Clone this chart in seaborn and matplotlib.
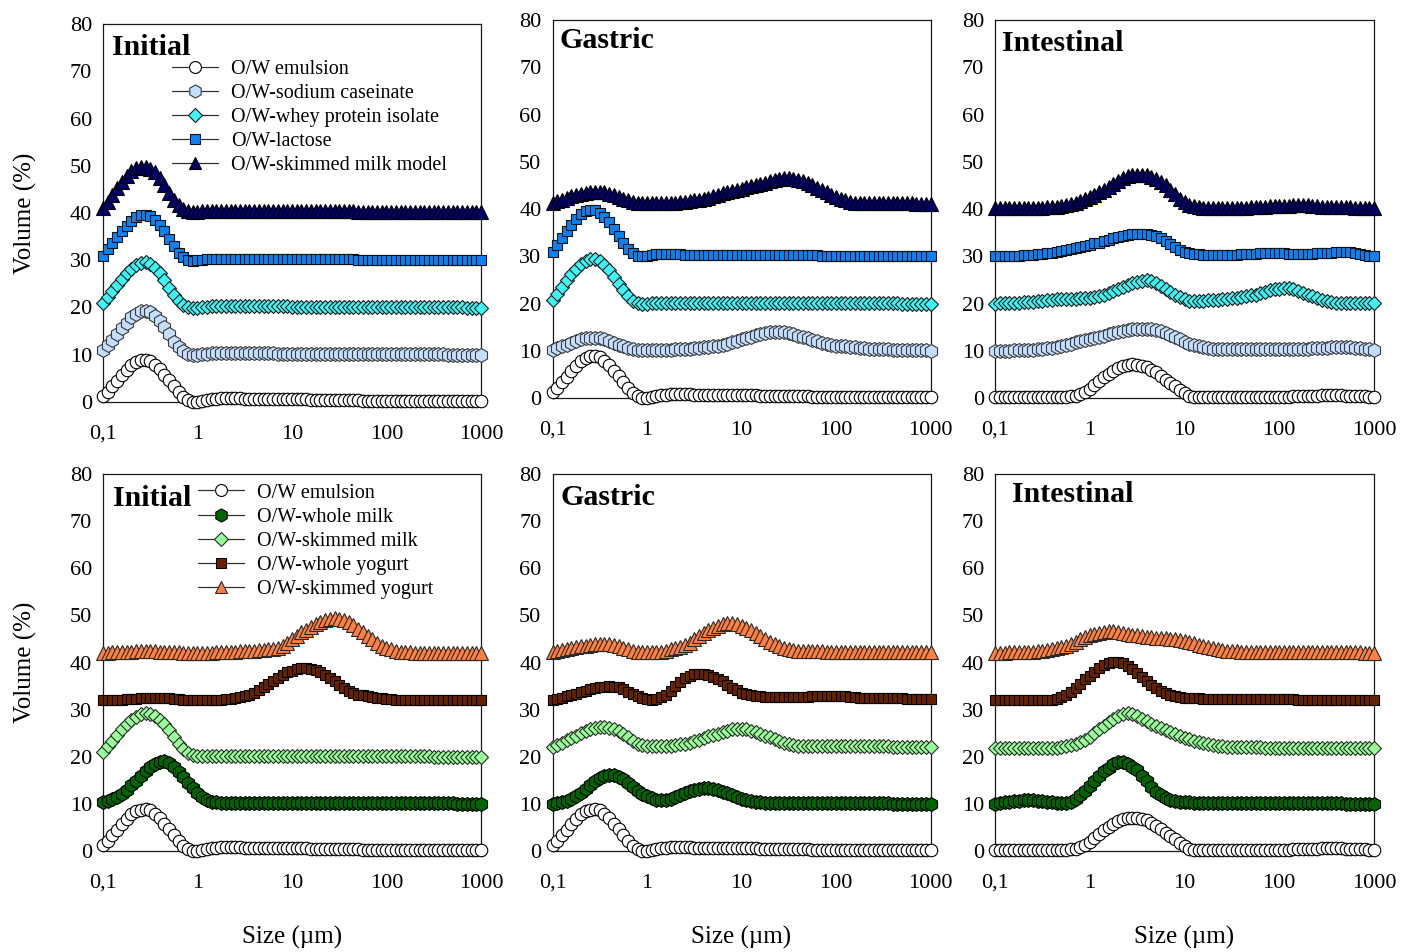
import matplotlib
matplotlib.use("Agg")
import matplotlib.pyplot as plt
from matplotlib.ticker import FixedLocator, NullLocator
import seaborn as sns

# Particle size classes (µm), 20 classes per decade from 0.1 to 1000
sizes_um = [
    0.1, 0.112, 0.126, 0.141, 0.158, 0.178, 0.2, 0.224, 0.251, 0.282,
    0.316, 0.355, 0.398, 0.447, 0.501, 0.562, 0.631, 0.708, 0.794, 0.891,
    1.0, 1.12, 1.26, 1.41, 1.58, 1.78, 2.0, 2.24, 2.51, 2.82,
    3.16, 3.55, 3.98, 4.47, 5.01, 5.62, 6.31, 7.08, 7.94, 8.91,
    10.0, 11.2, 12.6, 14.1, 15.8, 17.8, 20.0, 22.4, 25.1, 28.2,
    31.6, 35.5, 39.8, 44.7, 50.1, 56.2, 63.1, 70.8, 79.4, 89.1,
    100.0, 112, 126, 141, 158, 178, 200, 224, 251, 282,
    316, 355, 398, 447, 501, 562, 631, 708, 794, 891,
    1000.0,
]

phases = ["Initial", "Gastric", "Intestinal"]
tick_values = [0.1, 1, 10, 100, 1000]
tick_labels = ["0,1", "1", "10", "100", "1000"]
y_ticks = [0, 10, 20, 30, 40, 50, 60, 70, 80]

top_labels = ["O/W emulsion", "O/W-sodium caseinate", "O/W-whey protein isolate",
              "O/W-lactose", "O/W-skimmed milk model"]
bottom_labels = ["O/W emulsion", "O/W-whole milk", "O/W-skimmed milk",
                 "O/W-whole yogurt", "O/W-skimmed yogurt"]

# ---- Volume (%) curves, stacked with offsets as plotted ----
emulsion_initial = [
    1.2, 2.2, 3.3, 4.5, 5.7, 6.8, 7.8, 8.4, 8.8, 8.9,
    8.6, 7.9, 6.9, 5.8, 4.6, 3.3, 2.1, 1.1, 0.4, 0.1,
    0.1, 0.3, 0.5, 0.6, 0.7, 0.8, 0.8, 0.8, 0.8, 0.8,
    0.7, 0.7, 0.7, 0.7, 0.7, 0.7, 0.7, 0.7, 0.6, 0.6,
    0.6, 0.6, 0.6, 0.6, 0.5, 0.5, 0.5, 0.5, 0.5, 0.5,
    0.4, 0.4, 0.4, 0.4, 0.4, 0.3, 0.3, 0.3, 0.3, 0.3,
    0.3, 0.3, 0.2, 0.2, 0.2, 0.2, 0.2, 0.2, 0.2, 0.2,
    0.2, 0.2, 0.2, 0.2, 0.2, 0.2, 0.2, 0.2, 0.2, 0.2,
    0.2,
]
emulsion_intestinal = [
    0.3, 0.3, 0.3, 0.3, 0.3, 0.3, 0.3, 0.3, 0.3, 0.3,
    0.3, 0.3, 0.3, 0.3, 0.3, 0.3, 0.4, 0.5, 0.8, 1.3,
    2.0, 2.8, 3.6, 4.4, 5.1, 5.8, 6.3, 6.7, 7.0, 7.1,
    7.0, 6.8, 6.5, 6.0, 5.4, 4.7, 3.9, 3.2, 2.5, 1.7,
    1.0, 0.5, 0.3, 0.2, 0.2, 0.2, 0.2, 0.2, 0.2, 0.2,
    0.2, 0.2, 0.2, 0.2, 0.2, 0.2, 0.2, 0.2, 0.3, 0.3,
    0.3, 0.3, 0.3, 0.4, 0.4, 0.4, 0.5, 0.5, 0.5, 0.6,
    0.6, 0.6, 0.6, 0.6, 0.5, 0.5, 0.5, 0.4, 0.4, 0.3,
    0.3,
]

caseinate_initial = [
    11.0, 12.0, 13.2, 14.4, 15.6, 16.8, 17.9, 18.7, 19.2, 19.3,
    19.0, 18.3, 17.2, 15.8, 14.3, 12.8, 11.6, 10.7, 10.2, 10.0,
    10.0, 10.1, 10.2, 10.3, 10.3, 10.3, 10.3, 10.3, 10.3, 10.3,
    10.3, 10.3, 10.3, 10.3, 10.3, 10.3, 10.3, 10.2, 10.2, 10.2,
    10.2, 10.2, 10.2, 10.2, 10.2, 10.2, 10.2, 10.2, 10.2, 10.2,
    10.2, 10.2, 10.1, 10.1, 10.1, 10.1, 10.1, 10.1, 10.1, 10.1,
    10.1, 10.1, 10.1, 10.1, 10.1, 10.1, 10.1, 10.1, 10.1, 10.1,
    10.1, 10.1, 10.1, 10.0, 10.0, 10.0, 10.0, 10.0, 10.0, 10.0,
    10.0,
]
caseinate_gastric = [
    10.2, 10.5, 10.9, 11.3, 11.7, 12.1, 12.4, 12.6, 12.7, 12.7,
    12.6, 12.4, 12.1, 11.7, 11.3, 10.9, 10.6, 10.3, 10.2, 10.1,
    10.1, 10.1, 10.1, 10.1, 10.2, 10.2, 10.3, 10.3, 10.4, 10.4,
    10.5, 10.6, 10.7, 10.8, 10.9, 11.1, 11.3, 11.5, 11.8, 12.1,
    12.4, 12.7, 13.0, 13.3, 13.6, 13.8, 13.9, 14.0, 14.0, 13.9,
    13.7, 13.5, 13.2, 12.9, 12.6, 12.3, 12.0, 11.7, 11.5, 11.3,
    11.1, 11.0, 10.9, 10.8, 10.7, 10.6, 10.5, 10.4, 10.4, 10.3,
    10.3, 10.3, 10.2, 10.2, 10.2, 10.2, 10.1, 10.1, 10.1, 10.1,
    10.0,
]
caseinate_intestinal = [
    10.0, 10.0, 10.0, 10.0, 10.1, 10.1, 10.1, 10.2, 10.2, 10.3,
    10.4, 10.5, 10.6, 10.8, 11.0, 11.2, 11.5, 11.8, 12.0, 12.3,
    12.5, 12.7, 13.0, 13.2, 13.5, 13.7, 13.9, 14.1, 14.3, 14.5,
    14.6, 14.7, 14.7, 14.6, 14.4, 14.2, 13.8, 13.4, 12.9, 12.4,
    11.9, 11.5, 11.2, 10.9, 10.7, 10.5, 10.4, 10.3, 10.3, 10.3,
    10.3, 10.3, 10.3, 10.3, 10.3, 10.3, 10.3, 10.3, 10.3, 10.3,
    10.3, 10.3, 10.3, 10.3, 10.3, 10.4, 10.4, 10.5, 10.5, 10.6,
    10.6, 10.7, 10.7, 10.7, 10.7, 10.7, 10.6, 10.5, 10.4, 10.3,
    10.2,
]

whey_initial = [
    21.0, 22.2, 23.5, 24.8, 26.0, 27.2, 28.2, 29.0, 29.5, 29.6,
    29.2, 28.4, 27.2, 25.8, 24.2, 22.7, 21.4, 20.5, 20.1, 20.0,
    20.0, 20.1, 20.2, 20.3, 20.3, 20.3, 20.3, 20.3, 20.3, 20.3,
    20.3, 20.3, 20.3, 20.3, 20.3, 20.3, 20.3, 20.3, 20.3, 20.3,
    20.2, 20.2, 20.2, 20.2, 20.2, 20.2, 20.2, 20.2, 20.2, 20.2,
    20.2, 20.2, 20.2, 20.2, 20.2, 20.2, 20.2, 20.2, 20.2, 20.2,
    20.1, 20.1, 20.1, 20.1, 20.1, 20.1, 20.1, 20.1, 20.1, 20.1,
    20.1, 20.1, 20.1, 20.1, 20.1, 20.1, 20.1, 20.0, 20.0, 20.0,
    20.0,
]
whey_gastric = [
    20.8, 22.1, 23.5, 24.9, 26.2, 27.4, 28.4, 29.1, 29.4, 29.4,
    29.0, 28.2, 27.1, 25.7, 24.2, 22.8, 21.5, 20.6, 20.1, 20.0,
    20.0, 20.1, 20.2, 20.2, 20.2, 20.2, 20.2, 20.2, 20.2, 20.2,
    20.2, 20.2, 20.2, 20.2, 20.2, 20.2, 20.2, 20.2, 20.2, 20.2,
    20.2, 20.2, 20.2, 20.2, 20.2, 20.2, 20.2, 20.2, 20.2, 20.2,
    20.2, 20.2, 20.2, 20.2, 20.2, 20.2, 20.1, 20.1, 20.1, 20.1,
    20.1, 20.1, 20.1, 20.1, 20.1, 20.1, 20.1, 20.1, 20.1, 20.1,
    20.1, 20.1, 20.1, 20.1, 20.0, 20.0, 20.0, 20.0, 20.0, 20.0,
    20.0,
]
whey_intestinal = [
    20.0, 20.1, 20.2, 20.2, 20.2, 20.2, 20.3, 20.3, 20.4, 20.5,
    20.6, 20.7, 20.8, 20.9, 21.0, 21.0, 21.0, 21.0, 21.1, 21.1,
    21.2, 21.3, 21.5, 21.8, 22.2, 22.6, 23.0, 23.5, 23.9, 24.3,
    24.6, 24.8, 24.9, 24.8, 24.4, 23.8, 23.1, 22.4, 21.8, 21.3,
    20.9, 20.6, 20.5, 20.5, 20.6, 20.7, 20.8, 20.8, 20.9, 21.0,
    21.1, 21.2, 21.3, 21.5, 21.7, 21.9, 22.2, 22.5, 22.8, 23.0,
    23.1, 23.2, 23.2, 23.0, 22.7, 22.3, 21.9, 21.5, 21.1, 20.8,
    20.5, 20.3, 20.2, 20.2, 20.2, 20.2, 20.2, 20.2, 20.2, 20.2,
    20.1,
]

lactose_initial = [
    31.0, 32.3, 33.6, 34.9, 36.1, 37.3, 38.3, 39.1, 39.5, 39.6,
    39.3, 38.6, 37.5, 36.1, 34.6, 33.0, 31.6, 30.6, 30.1, 29.9,
    30.0, 30.1, 30.2, 30.3, 30.3, 30.3, 30.3, 30.3, 30.3, 30.3,
    30.3, 30.3, 30.3, 30.3, 30.3, 30.3, 30.2, 30.2, 30.2, 30.2,
    30.2, 30.2, 30.2, 30.2, 30.2, 30.2, 30.2, 30.2, 30.2, 30.2,
    30.2, 30.2, 30.2, 30.2, 30.1, 30.1, 30.1, 30.1, 30.1, 30.1,
    30.1, 30.1, 30.1, 30.1, 30.1, 30.1, 30.1, 30.1, 30.1, 30.1,
    30.1, 30.1, 30.0, 30.0, 30.0, 30.0, 30.0, 30.0, 30.0, 30.0,
    30.0,
]
lactose_gastric = [
    30.9, 32.3, 33.8, 35.3, 36.7, 37.9, 38.9, 39.5, 39.8, 39.7,
    39.2, 38.4, 37.2, 35.8, 34.3, 32.9, 31.6, 30.6, 30.1, 30.0,
    30.1, 30.3, 30.4, 30.5, 30.5, 30.5, 30.4, 30.4, 30.3, 30.3,
    30.3, 30.3, 30.3, 30.3, 30.3, 30.3, 30.3, 30.3, 30.2, 30.2,
    30.2, 30.2, 30.2, 30.2, 30.2, 30.2, 30.2, 30.2, 30.2, 30.2,
    30.2, 30.2, 30.2, 30.2, 30.2, 30.2, 30.2, 30.1, 30.1, 30.1,
    30.1, 30.1, 30.1, 30.1, 30.1, 30.1, 30.1, 30.1, 30.1, 30.1,
    30.1, 30.1, 30.1, 30.1, 30.1, 30.1, 30.0, 30.0, 30.0, 30.0,
    30.0,
]
lactose_intestinal = [
    30.0, 30.0, 30.0, 30.0, 30.1, 30.1, 30.2, 30.2, 30.3, 30.4,
    30.5, 30.6, 30.7, 30.9, 31.1, 31.3, 31.5, 31.7, 31.9, 32.2,
    32.4, 32.7, 32.9, 33.2, 33.5, 33.8, 34.0, 34.3, 34.5, 34.7,
    34.8, 34.8, 34.7, 34.5, 34.2, 33.8, 33.2, 32.6, 32.0, 31.4,
    31.0, 30.7, 30.5, 30.4, 30.3, 30.3, 30.3, 30.3, 30.3, 30.3,
    30.3, 30.3, 30.4, 30.4, 30.5, 30.5, 30.6, 30.6, 30.6, 30.6,
    30.6, 30.6, 30.5, 30.5, 30.5, 30.5, 30.5, 30.5, 30.6, 30.6,
    30.7, 30.7, 30.8, 30.8, 30.8, 30.8, 30.7, 30.5, 30.3, 30.1,
    30.0,
]

model_initial = [
    41.1, 42.4, 43.8, 45.2, 46.6, 47.8, 48.8, 49.5, 49.8, 49.8,
    49.4, 48.6, 47.4, 45.9, 44.3, 42.8, 41.6, 40.8, 40.4, 40.3,
    40.3, 40.4, 40.5, 40.5, 40.5, 40.5, 40.5, 40.5, 40.5, 40.5,
    40.5, 40.5, 40.5, 40.5, 40.5, 40.5, 40.5, 40.4, 40.4, 40.4,
    40.4, 40.4, 40.4, 40.4, 40.4, 40.4, 40.4, 40.4, 40.4, 40.4,
    40.4, 40.4, 40.4, 40.4, 40.3, 40.3, 40.3, 40.3, 40.3, 40.3,
    40.3, 40.3, 40.3, 40.3, 40.3, 40.3, 40.3, 40.3, 40.3, 40.3,
    40.3, 40.3, 40.3, 40.2, 40.2, 40.2, 40.2, 40.2, 40.2, 40.2,
    40.2,
]
model_gastric = [
    41.3, 41.6, 42.0, 42.4, 42.7, 43.0, 43.2, 43.4, 43.5, 43.6,
    43.6, 43.5, 43.2, 42.9, 42.5, 42.1, 41.8, 41.5, 41.3, 41.2,
    41.2, 41.2, 41.2, 41.2, 41.2, 41.3, 41.3, 41.4, 41.5, 41.6,
    41.8, 42.0, 42.2, 42.4, 42.7, 43.0, 43.3, 43.6, 43.9, 44.1,
    44.3, 44.6, 44.8, 45.0, 45.3, 45.6, 45.9, 46.2, 46.4, 46.5,
    46.5, 46.4, 46.2, 45.9, 45.5, 45.0, 44.5, 44.0, 43.5, 43.0,
    42.5, 42.1, 41.8, 41.5, 41.3, 41.2, 41.2, 41.2, 41.2, 41.2,
    41.2, 41.2, 41.2, 41.2, 41.2, 41.2, 41.2, 41.1, 41.1, 41.1,
    41.1,
]
model_intestinal = [
    40.2, 40.2, 40.2, 40.2, 40.2, 40.2, 40.2, 40.2, 40.3, 40.3,
    40.3, 40.4, 40.4, 40.5, 40.6, 40.8, 41.0, 41.3, 41.7, 42.1,
    42.5, 43.0, 43.5, 44.0, 44.6, 45.2, 45.9, 46.5, 46.9, 47.2,
    47.3, 47.3, 47.1, 46.7, 46.3, 45.8, 45.0, 44.1, 43.1, 42.2,
    41.4, 40.9, 40.6, 40.4, 40.3, 40.3, 40.3, 40.3, 40.3, 40.3,
    40.3, 40.3, 40.3, 40.3, 40.4, 40.4, 40.5, 40.5, 40.6, 40.6,
    40.7, 40.7, 40.7, 40.8, 40.8, 40.8, 40.8, 40.7, 40.6, 40.5,
    40.5, 40.4, 40.4, 40.4, 40.4, 40.4, 40.3, 40.3, 40.3, 40.2,
    40.2,
]

whole_milk_initial = [
    10.3, 10.6, 11.0, 11.5, 12.2, 13.0, 13.9, 14.9, 16.0, 17.0,
    17.9, 18.5, 18.9, 19.0, 18.6, 17.8, 16.8, 15.6, 14.4, 13.3,
    12.3, 11.5, 10.9, 10.5, 10.3, 10.2, 10.2, 10.2, 10.2, 10.2,
    10.2, 10.2, 10.2, 10.2, 10.2, 10.2, 10.2, 10.2, 10.2, 10.2,
    10.2, 10.2, 10.2, 10.2, 10.2, 10.2, 10.2, 10.2, 10.2, 10.2,
    10.1, 10.1, 10.1, 10.1, 10.1, 10.1, 10.1, 10.1, 10.1, 10.1,
    10.1, 10.1, 10.1, 10.1, 10.1, 10.1, 10.1, 10.1, 10.1, 10.1,
    10.1, 10.1, 10.1, 10.1, 10.1, 10.0, 10.0, 10.0, 10.0, 10.0,
    10.0,
]
whole_milk_gastric = [
    10.0, 10.1, 10.3, 10.6, 11.1, 11.7, 12.4, 13.2, 14.0, 14.8,
    15.4, 15.9, 16.1, 16.1, 15.8, 15.2, 14.4, 13.6, 12.8, 12.1,
    11.6, 11.2, 10.9, 10.8, 10.9, 11.1, 11.5, 11.9, 12.3, 12.7,
    13.0, 13.2, 13.3, 13.3, 13.2, 12.9, 12.6, 12.3, 11.9, 11.5,
    11.1, 10.8, 10.6, 10.4, 10.3, 10.2, 10.2, 10.1, 10.1, 10.1,
    10.1, 10.1, 10.1, 10.1, 10.1, 10.1, 10.1, 10.1, 10.1, 10.1,
    10.1, 10.1, 10.1, 10.1, 10.1, 10.1, 10.1, 10.1, 10.1, 10.1,
    10.1, 10.1, 10.0, 10.0, 10.0, 10.0, 10.0, 10.0, 10.0, 10.0,
    10.0,
]
whole_milk_intestinal = [
    10.0, 10.2, 10.4, 10.5, 10.6, 10.7, 10.8, 10.8, 10.8, 10.7,
    10.6, 10.5, 10.4, 10.2, 10.1, 10.1, 10.5, 11.1, 11.9, 12.8,
    13.8, 14.9, 15.9, 16.9, 17.7, 18.4, 18.8, 18.8, 18.5, 17.9,
    17.1, 16.0, 14.8, 13.6, 12.6, 11.8, 11.2, 10.8, 10.6, 10.4,
    10.3, 10.3, 10.2, 10.2, 10.2, 10.2, 10.2, 10.2, 10.2, 10.2,
    10.2, 10.2, 10.2, 10.2, 10.2, 10.2, 10.1, 10.1, 10.1, 10.1,
    10.1, 10.1, 10.1, 10.1, 10.1, 10.1, 10.1, 10.1, 10.1, 10.1,
    10.1, 10.1, 10.1, 10.1, 10.0, 10.0, 10.0, 10.0, 10.0, 10.0,
    10.0,
]

skimmed_milk_initial = [
    21.1, 22.2, 23.4, 24.6, 25.8, 26.9, 27.8, 28.5, 29.0, 29.2,
    29.1, 28.6, 27.9, 26.9, 25.6, 24.2, 22.8, 21.6, 20.8, 20.4,
    20.2, 20.2, 20.2, 20.2, 20.2, 20.2, 20.2, 20.2, 20.2, 20.2,
    20.2, 20.2, 20.2, 20.2, 20.2, 20.2, 20.2, 20.2, 20.2, 20.2,
    20.2, 20.2, 20.2, 20.2, 20.2, 20.2, 20.2, 20.2, 20.1, 20.1,
    20.1, 20.1, 20.1, 20.1, 20.1, 20.1, 20.1, 20.1, 20.1, 20.1,
    20.1, 20.1, 20.1, 20.1, 20.1, 20.1, 20.1, 20.1, 20.1, 20.1,
    20.0, 20.0, 20.0, 20.0, 20.0, 20.0, 20.0, 20.0, 20.0, 20.0,
    20.0,
]
skimmed_milk_gastric = [
    22.1, 22.5, 23.0, 23.5, 24.0, 24.5, 25.0, 25.5, 25.9, 26.2,
    26.4, 26.4, 26.2, 25.9, 25.4, 24.8, 24.1, 23.4, 22.8, 22.4,
    22.2, 22.2, 22.2, 22.2, 22.2, 22.3, 22.4, 22.6, 22.8, 23.0,
    23.3, 23.6, 23.9, 24.3, 24.6, 24.9, 25.2, 25.5, 25.8, 25.9,
    25.9, 25.8, 25.5, 25.2, 24.9, 24.5, 24.1, 23.7, 23.3, 22.9,
    22.6, 22.4, 22.3, 22.2, 22.2, 22.2, 22.2, 22.2, 22.2, 22.2,
    22.2, 22.2, 22.2, 22.2, 22.2, 22.2, 22.2, 22.2, 22.2, 22.2,
    22.2, 22.2, 22.1, 22.1, 22.1, 22.1, 22.1, 22.1, 22.1, 22.1,
    22.1,
]
skimmed_milk_intestinal = [
    21.8, 21.8, 21.8, 21.8, 21.8, 21.8, 21.8, 21.8, 21.8, 21.8,
    21.8, 21.8, 21.8, 21.9, 22.0, 22.2, 22.4, 22.7, 23.1, 23.6,
    24.2, 25.0, 25.8, 26.6, 27.4, 28.1, 28.7, 29.1, 29.2, 29.0,
    28.6, 28.1, 27.5, 27.0, 26.5, 26.0, 25.6, 25.2, 24.8, 24.4,
    24.0, 23.7, 23.4, 23.1, 22.9, 22.7, 22.5, 22.3, 22.2, 22.1,
    22.0, 22.0, 22.0, 22.0, 22.0, 22.0, 22.0, 21.9, 21.9, 21.9,
    21.9, 21.9, 21.9, 21.9, 21.9, 21.9, 21.9, 21.9, 21.9, 21.9,
    21.9, 21.9, 21.9, 21.9, 21.9, 21.9, 21.9, 21.9, 21.9, 21.9,
    21.9,
]

whole_yogurt_initial = [
    32.0, 32.0, 32.0, 32.1, 32.1, 32.2, 32.3, 32.3, 32.4, 32.5,
    32.5, 32.5, 32.5, 32.5, 32.4, 32.3, 32.2, 32.1, 32.0, 32.0,
    32.0, 32.0, 32.0, 32.0, 32.0, 32.1, 32.2, 32.3, 32.5, 32.7,
    32.9, 33.2, 33.6, 34.1, 34.7, 35.4, 36.1, 36.8, 37.4, 37.9,
    38.3, 38.6, 38.8, 38.8, 38.7, 38.4, 38.0, 37.4, 36.7, 36.0,
    35.2, 34.5, 33.9, 33.5, 33.2, 33.0, 32.8, 32.6, 32.5, 32.4,
    32.3, 32.2, 32.1, 32.0, 32.0, 32.0, 32.0, 32.0, 32.0, 32.0,
    32.0, 32.0, 32.0, 32.0, 32.0, 32.0, 32.0, 32.0, 32.0, 32.0,
    32.0,
]
whole_yogurt_gastric = [
    32.1, 32.3, 32.5, 32.8, 33.1, 33.4, 33.7, 34.0, 34.3, 34.6,
    34.8, 34.9, 35.0, 34.9, 34.7, 34.3, 33.8, 33.3, 32.8, 32.4,
    32.2, 32.1, 32.2, 32.6, 33.2, 34.0, 35.0, 35.9, 36.7, 37.2,
    37.5, 37.6, 37.6, 37.4, 37.0, 36.5, 36.0, 35.3, 34.6, 34.1,
    33.6, 33.3, 33.1, 32.9, 32.8, 32.7, 32.7, 32.6, 32.6, 32.6,
    32.6, 32.6, 32.6, 32.7, 32.7, 32.8, 32.8, 32.9, 32.9, 32.9,
    32.9, 32.8, 32.8, 32.7, 32.6, 32.5, 32.5, 32.4, 32.4, 32.4,
    32.4, 32.4, 32.4, 32.4, 32.4, 32.3, 32.3, 32.3, 32.2, 32.2,
    32.2,
]
whole_yogurt_intestinal = [
    32.1, 32.0, 32.0, 32.0, 32.0, 32.0, 32.0, 32.0, 32.0, 32.0,
    32.0, 32.0, 32.1, 32.3, 32.6, 33.1, 33.8, 34.6, 35.5, 36.4,
    37.2, 38.0, 38.8, 39.4, 39.9, 40.1, 40.1, 39.8, 39.3, 38.6,
    37.8, 36.9, 36.0, 35.3, 34.6, 34.0, 33.5, 33.1, 32.8, 32.6,
    32.5, 32.5, 32.4, 32.4, 32.3, 32.3, 32.3, 32.3, 32.3, 32.3,
    32.2, 32.2, 32.2, 32.2, 32.2, 32.2, 32.2, 32.2, 32.2, 32.2,
    32.2, 32.2, 32.2, 32.2, 32.1, 32.1, 32.1, 32.1, 32.1, 32.1,
    32.1, 32.1, 32.1, 32.1, 32.1, 32.1, 32.0, 32.0, 32.0, 32.0,
    32.0,
]

skimmed_yogurt_initial = [
    42.1, 42.1, 42.2, 42.2, 42.3, 42.3, 42.3, 42.4, 42.4, 42.4,
    42.4, 42.4, 42.3, 42.3, 42.2, 42.2, 42.2, 42.1, 42.1, 42.1,
    42.1, 42.1, 42.1, 42.1, 42.2, 42.2, 42.2, 42.3, 42.3, 42.4,
    42.4, 42.5, 42.5, 42.6, 42.7, 42.8, 42.9, 43.1, 43.5, 44.2,
    44.9, 45.7, 46.4, 47.0, 47.6, 48.1, 48.6, 49.0, 49.3, 49.4,
    49.3, 49.0, 48.5, 47.9, 47.2, 46.4, 45.6, 44.9, 44.2, 43.6,
    43.1, 42.8, 42.5, 42.3, 42.2, 42.2, 42.1, 42.1, 42.1, 42.1,
    42.1, 42.1, 42.1, 42.1, 42.1, 42.1, 42.1, 42.1, 42.1, 42.1,
    42.1,
]
skimmed_yogurt_gastric = [
    42.2, 42.4, 42.6, 42.8, 43.0, 43.2, 43.4, 43.6, 43.8, 43.9,
    44.0, 44.0, 43.9, 43.7, 43.4, 43.1, 42.8, 42.5, 42.3, 42.2,
    42.2, 42.2, 42.2, 42.3, 42.5, 42.8, 43.0, 43.3, 43.7, 44.2,
    44.9, 45.6, 46.3, 46.9, 47.4, 47.8, 48.1, 48.3, 48.3, 48.1,
    47.8, 47.3, 46.8, 46.2, 45.6, 45.0, 44.4, 43.9, 43.4, 43.0,
    42.8, 42.6, 42.5, 42.4, 42.4, 42.4, 42.4, 42.4, 42.3, 42.3,
    42.3, 42.3, 42.3, 42.3, 42.3, 42.3, 42.3, 42.3, 42.3, 42.3,
    42.3, 42.3, 42.3, 42.3, 42.2, 42.2, 42.2, 42.2, 42.2, 42.2,
    42.2,
]
skimmed_yogurt_intestinal = [
    42.1, 42.1, 42.1, 42.2, 42.2, 42.2, 42.2, 42.3, 42.3, 42.4,
    42.5, 42.6, 42.8, 43.0, 43.2, 43.5, 43.9, 44.4, 44.9, 45.4,
    45.8, 46.1, 46.3, 46.5, 46.6, 46.6, 46.5, 46.3, 46.1, 45.9,
    45.8, 45.6, 45.5, 45.4, 45.3, 45.2, 45.1, 45.0, 44.9, 44.8,
    44.6, 44.4, 44.1, 43.8, 43.5, 43.2, 43.0, 42.8, 42.6, 42.5,
    42.4, 42.4, 42.3, 42.3, 42.3, 42.3, 42.3, 42.3, 42.3, 42.3,
    42.3, 42.3, 42.3, 42.3, 42.3, 42.3, 42.3, 42.3, 42.3, 42.3,
    42.3, 42.3, 42.2, 42.2, 42.2, 42.2, 42.2, 42.2, 42.1, 42.1,
    42.1,
]

top_series = {
    "Initial": [emulsion_initial, caseinate_initial, whey_initial,
                lactose_initial, model_initial],
    "Gastric": [emulsion_initial, caseinate_gastric, whey_gastric,
                lactose_gastric, model_gastric],
    "Intestinal": [emulsion_intestinal, caseinate_intestinal, whey_intestinal,
                   lactose_intestinal, model_intestinal],
}
bottom_series = {
    "Initial": [emulsion_initial, whole_milk_initial, skimmed_milk_initial,
                whole_yogurt_initial, skimmed_yogurt_initial],
    "Gastric": [emulsion_initial, whole_milk_gastric, skimmed_milk_gastric,
                whole_yogurt_gastric, skimmed_yogurt_gastric],
    "Intestinal": [emulsion_intestinal, whole_milk_intestinal,
                   skimmed_milk_intestinal, whole_yogurt_intestinal,
                   skimmed_yogurt_intestinal],
}

# marker, face colour, edge colour, marker size
top_styles = [
    ("o", "#FFFFFF", "#000000", 9.0),
    ("h", "#C4DEFF", "#3A3A3A", 10.0),
    ("D", "#3CF7F7", "#1A1A1A", 7.6),
    ("s", "#0A82F5", "#101010", 7.9),
    ("^", "#000066", "#000000", 9.6),
]
bottom_styles = [
    ("o", "#FFFFFF", "#000000", 9.0),
    ("h", "#006400", "#000000", 10.0),
    ("D", "#99FF99", "#2A2A2A", 7.6),
    ("s", "#662200", "#000000", 7.9),
    ("^", "#FF8040", "#2A2A2A", 9.6),
]

sns.set_theme(style="white")
plt.rcParams["font.family"] = ["Liberation Serif", "DejaVu Serif"]
plt.rcParams["text.color"] = "black"
plt.rcParams["axes.labelcolor"] = "black"

fig = plt.figure(figsize=(14.04, 9.52), dpi=100)
W, H = 1404.0, 952.0

# axes boxes in pixels: (left, top, right, bottom)
boxes = {
    (0, 0): (103, 24, 481, 402),
    (0, 1): (552.5, 20, 930.5, 398),
    (0, 2): (995, 20, 1374, 398),
    (1, 0): (103, 474, 481, 851),
    (1, 1): (552.5, 474, 930.5, 851),
    (1, 2): (995, 474, 1374, 851),
}
# title anchor (axes fraction x, baseline y)
title_pos = {
    (0, 0): (0.024, 0.918), (0, 1): (0.019, 0.926), (0, 2): (0.018, 0.918),
    (1, 0): (0.026, 0.915), (1, 1): (0.022, 0.918), (1, 2): (0.045, 0.926),
}
legend_anchor = {0: (0.182, 0.906), 1: (0.251, 0.975)}

for row, (series_map, styles, labels) in enumerate(
        [(top_series, top_styles, top_labels),
         (bottom_series, bottom_styles, bottom_labels)]):
    for col, phase in enumerate(phases):
        l, t, r, b = boxes[(row, col)]
        ax = fig.add_axes([l / W, 1 - b / H, (r - l) / W, (b - t) / H])
        for values, (mk, fc, ec, ms), lab in zip(series_map[phase], styles, labels):
            sns.lineplot(x=sizes_um, y=values, ax=ax, color="#303030",
                         linewidth=0.9, marker=mk, markersize=ms,
                         markerfacecolor=fc, markeredgecolor=ec,
                         markeredgewidth=0.8, label=lab, legend=False,
                         clip_on=False, zorder=3)
        ax.set_xscale("log")
        ax.set_xlim(0.1, 1000)
        ax.set_ylim(0, 80)
        ax.xaxis.set_major_locator(FixedLocator(tick_values))
        ax.xaxis.set_minor_locator(NullLocator())
        ax.set_xticklabels(tick_labels)
        ax.set_yticks(y_ticks)
        ax.set_xlabel("")
        ax.set_ylabel("")
        ax.tick_params(axis="both", length=0, labelsize=16, colors="black")
        ax.tick_params(axis="x", pad=16.5)
        ax.tick_params(axis="y", pad=8)
        for sp in ax.spines.values():
            sp.set_visible(True)
            sp.set_color("#1A1A1A")
            sp.set_linewidth(0.9)
        ax.set_facecolor("white")
        tx, ty = title_pos[(row, col)]
        ax.text(tx, ty, phase, transform=ax.transAxes, fontsize=21.5,
                fontweight="bold", color="black", ha="left", va="baseline",
                zorder=5)
        if col == 0:
            ax.legend(handles=ax.get_lines()[:5], labels=labels,
                      loc="upper left", bbox_to_anchor=legend_anchor[row],
                      frameon=False, fontsize=14.5, handlelength=2.28,
                      handletextpad=0.65, labelspacing=0.25, borderpad=0,
                      borderaxespad=0, markerscale=0.95)

# shared axis titles
for row_top, row_bot in [(24, 402), (474, 851)]:
    fig.text(25 / W, 1 - (row_top + row_bot) / 2 / H, "Volume (%)",
             rotation=90, ha="center", va="center", fontsize=18)
for l, r in [(103, 481), (552.5, 930.5), (995, 1374)]:
    fig.text((l + r) / 2 / W, 1 - 937 / H, "Size (µm)",
             ha="center", va="center", fontsize=18)

fig.savefig("out.png", dpi=100, facecolor="white")
